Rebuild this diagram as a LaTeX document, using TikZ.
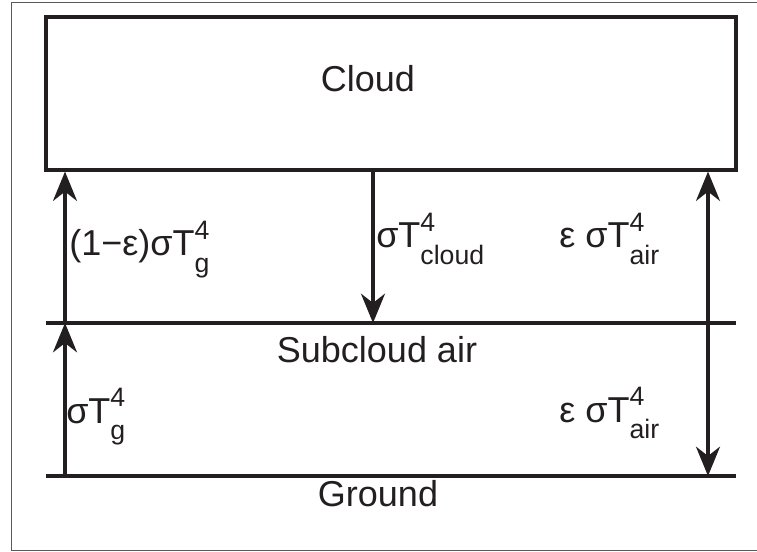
\documentclass[tikz,border=0pt]{standalone}
\usepackage{fontspec}
\setmainfont{Liberation Sans}
\usetikzlibrary{arrows.meta}
\definecolor{ink}{HTML}{231F20}
% sigma T with a stacked exponent 4 and a subscript
\newcommand{\fluxT}[1]{σT\makebox[0pt][l]{\raisebox{0.45em}{\fontsize{20}{20}\selectfont 4}}\raisebox{-0.45em}{\fontsize{20}{20}\selectfont #1}}
\tikzset{
  frame/.style={line width=0.75pt, black!65},
  layer/.style={line width=2.4pt, ink},
  cloudbox/.style={layer, draw, minimum width=517.5pt, minimum height=114.75pt, inner sep=0pt},
  flux/.style={line width=2.4pt, ink, -{Stealth[length=22pt, width=18pt, inset=7pt]}},
  layername/.style={anchor=base, inner sep=0pt, text=ink, font=\fontsize{27}{32}\selectfont},
  fluxlabel/.style={anchor=base west, inner sep=0pt, text=ink, font=\fontsize{27}{32}\selectfont},
}
\begin{document}
\begin{tikzpicture}[x=0.75pt, y=-0.75pt]
\useasboundingbox (0,0) rectangle (757,552);
% outer frame, open to the right
\draw[frame] (757,3) -- (11,3) -- (11,550) -- (757,550);
% cloud and the two levels below it
\node (cloud) [cloudbox] at (391,93.5) {};
\coordinate (air-w) at (46,323);
\coordinate (air-e) at (736,323);
\coordinate (gnd-w) at (46,476);
\coordinate (gnd-e) at (736,476);
\draw[layer] (air-w) -- (air-e);
\draw[layer] (gnd-w) -- (gnd-e);
\node (cloudname) [layername] at (368,92) {Cloud};
\node (airname) [layername] at (377,363) {Subcloud air};
\node (gndname) [layername] at (378,506) {Ground};
% columns of the radiation arrows
\coordinate (lcol) at (65,0);
\coordinate (mcol) at (373,0);
\coordinate (rcol) at (708,0);
\draw[flux] (lcol |- gnd-w) -- (lcol |- air-w);
\draw[flux] (lcol |- air-w) -- (lcol |- cloud.south);
\draw[flux] (mcol |- cloud.south) -- (mcol |- air-w);
\draw[flux] (rcol |- air-w) -- (rcol |- cloud.south);
\draw[flux] (rcol |- air-w) -- (rcol |- gnd-w);
% flux labels
\node (up-cloud) [fluxlabel] at (69,256) {(1−ε)\fluxT{g}};
\node (down-cloud) [fluxlabel] at (376,248) {\fluxT{cloud}};
\node (up-air) [fluxlabel] at (559,248) {ε \fluxT{air}};
\node (up-gnd) [fluxlabel] at (66,423) {\fluxT{g}};
\node (down-air) [fluxlabel] at (559,422) {ε \fluxT{air}};
\end{tikzpicture}
\end{document}
